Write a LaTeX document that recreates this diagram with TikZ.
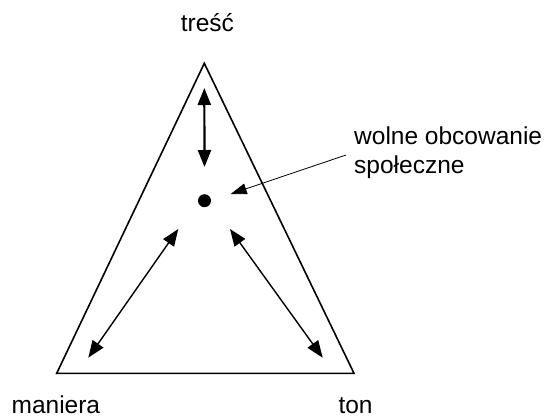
\documentclass[tikz,border=0pt]{standalone}
\usepackage{fontspec}
\setmainfont{Liberation Sans}
\usetikzlibrary{positioning, arrows.meta, calc}

\begin{document}
\begin{tikzpicture}[
  x=1pt, y=-1pt,
  font=\fontsize{24.5}{29}\selectfont,
  lbl/.style={inner sep=0pt, anchor=base west},
  twoway/.style={line width=1.4pt, {Triangle[length=17pt, width=13pt]}-{Triangle[length=17pt, width=13pt]}},
]
\useasboundingbox (0,0) rectangle (551,418);

% --- the triangle: content at the top, manner and tone at the base
\coordinate (top) at (204.3,63.3);
\coordinate (bl)  at (56.7,373.3);
\coordinate (br)  at (354,373.3);
\draw[line width=1.6pt, line join=miter] (top) -- (bl) -- (br) -- cycle;

% --- corner labels
\node[lbl] (tresc)   at (180.7,31.7) {treść};
\node[lbl] (maniera) at (11.4,413)   {maniera};
\node[lbl] (ton)     at (338.3,413)  {ton};

% --- the meeting point in the middle
\node[circle, fill=black, inner sep=0pt, minimum size=13pt] (dot) at (204.5,200.7) {};

% --- arrows to each corner
\coordinate (t1) at (204.3,88);
\coordinate (t2) at ($(dot)+(0,-33.7)$);
\coordinate (l1) at ($(dot)+(-26.2,28.3)$);
\coordinate (l2) at (88.3,357.7);
\coordinate (r1) at ($(dot)+(25.5,28.3)$);
\coordinate (r2) at (322.7,357.7);
\draw[twoway, line width=2.2pt] (t1) -- (t2);
\draw[twoway] (l1) -- (l2);
\draw[twoway] (r1) -- (r2);

% --- label with its pointer (base anchor sits on the last line)
\node[lbl, align=left] (wolne) at (354,173.5) {wolne obcowanie\\społeczne};
\coordinate (ptail) at (346,155);
\coordinate (ptip)  at ($(dot)+(26.2,-6.7)$);
\draw[line width=0.8pt, -{Triangle[length=16pt, width=11pt]}] (ptail) -- (ptip);

\end{tikzpicture}
\end{document}
